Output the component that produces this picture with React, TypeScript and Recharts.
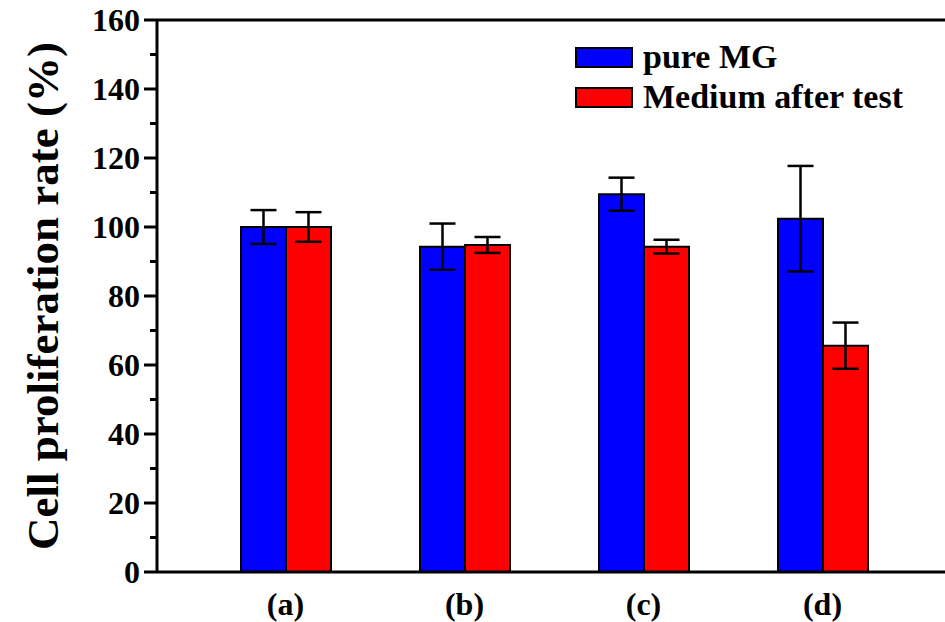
import {
  BarChart,
  Bar,
  XAxis,
  YAxis,
  Legend,
  ErrorBar,
  ReferenceLine,
} from "recharts";

const categories = ["(a)", "(b)", "(c)", "(d)"];
const seriesNames = ["pure MG", "Medium after test"];
const pureMG = [100, 94.3, 109.5, 102.4];
const pureMGErr = [4.9, 6.7, 4.8, 15.3];
const medium = [100, 94.8, 94.3, 65.6];
const mediumErr = [4.3, 2.3, 2.0, 6.7];
const yTicks = [0, 10, 20, 30, 40, 50, 60, 70, 80, 90, 100, 110, 120, 130, 140, 150, 160];

const FONT = "'Liberation Serif', 'DejaVu Serif', serif";
const TICK_SIZE = 13;
const MINOR_SIZE = 7;
const TICK_MARGIN = 4;

const data = categories.map((name, i) => ({
  name,
  mg: pureMG[i],
  mgErr: pureMGErr[i],
  med: medium[i],
  medErr: mediumErr[i],
}));

// major ticks get a label, minor ones only a short mark
function YTick(props: any) {
  const { x, y, payload } = props;
  const major = payload.value % 20 === 0;
  const axisX = x + TICK_MARGIN + TICK_SIZE;
  return (
    <g>
      <line
        x1={axisX - (major ? TICK_SIZE : MINOR_SIZE)}
        x2={axisX}
        y1={y}
        y2={y}
        stroke="#000"
        strokeWidth={3}
      />
      {major && (
        <text
          x={x}
          y={y}
          dy="0.34em"
          textAnchor="end"
          style={{ fontFamily: FONT, fontWeight: "bold", fontSize: 32 }}
          fill="#000"
        >
          {payload.value}
        </text>
      )}
    </g>
  );
}

function LegendBox(props: any) {
  const items = seriesNames
    .map((n) => (props.payload || []).find((p: any) => p.value === n))
    .filter(Boolean);
  return (
    <div>
      {items.map((p: any) => (
        <div key={p.value} style={{ display: "flex", alignItems: "center", height: 40 }}>
          <span
            style={{
              display: "inline-block",
              width: 58,
              height: 21,
              background: p.color,
              border: "2px solid #000",
              boxSizing: "border-box",
              marginRight: 10,
            }}
          />
          <span
            style={{
              fontFamily: FONT,
              fontWeight: "bold",
              fontSize: 34,
              color: "#000",
              whiteSpace: "nowrap",
              lineHeight: 1,
            }}
          >
            {p.value}
          </span>
        </div>
      ))}
    </div>
  );
}

export default function App() {
  return (
    <div
      style={{
        position: "absolute",
        left: 0,
        top: 0,
        width: 945,
        height: 622,
        overflow: "hidden",
        background: "#fff",
      }}
    >
      <BarChart
        width={960}
        height={622}
        data={data}
        margin={{ top: 20, right: 0, bottom: 0, left: 0 }}
        barSize={45}
        barGap={0}
      >
        <XAxis
          dataKey="name"
          height={50}
          padding={{ left: 39, right: 48 }}
          axisLine={{ stroke: "#000", strokeWidth: 3 }}
          tickLine={false}
          tickSize={0}
          tickMargin={20}
          tick={{ style: { fontFamily: FONT, fontWeight: "bold", fontSize: 32 }, fill: "#000" }}
        />
        <YAxis
          width={157}
          domain={[0, 160]}
          ticks={yTicks}
          interval={0}
          axisLine={{ stroke: "#000", strokeWidth: 3 }}
          tickLine={false}
          tickSize={TICK_SIZE}
          tickMargin={TICK_MARGIN}
          tick={<YTick />}
          label={{
            content: (p: any) => {
              const vb = p.viewBox;
              const cx = vb.x + 43;
              const cy = vb.y + vb.height / 2;
              return (
                <text
                  x={cx}
                  y={cy}
                  transform={`rotate(-90, ${cx}, ${cy})`}
                  textAnchor="middle"
                  dominantBaseline="central"
                  style={{ fontFamily: FONT, fontWeight: "bold", fontSize: 45 }}
                  fill="#000"
                >
                  Cell proliferation rate (%)
                </text>
              );
            },
          }}
        />
        <ReferenceLine y={160} stroke="#000" strokeWidth={3} ifOverflow="visible" />
        <Legend
          layout="vertical"
          align="center"
          verticalAlign="middle"
          content={<LegendBox />}
          wrapperStyle={{ position: "absolute", left: 575, top: 37, width: "auto", height: "auto" }}
        />
        <Bar dataKey="mg" name={seriesNames[0]} fill="#0000ff" stroke="#000" strokeWidth={2} isAnimationActive={false}>
          <ErrorBar dataKey="mgErr" width={13} stroke="#000" strokeWidth={2.5} direction="y" />
        </Bar>
        <Bar dataKey="med" name={seriesNames[1]} fill="#ff0000" stroke="#000" strokeWidth={2} isAnimationActive={false}>
          <ErrorBar dataKey="medErr" width={13} stroke="#000" strokeWidth={2.5} direction="y" />
        </Bar>
      </BarChart>
    </div>
  );
}
